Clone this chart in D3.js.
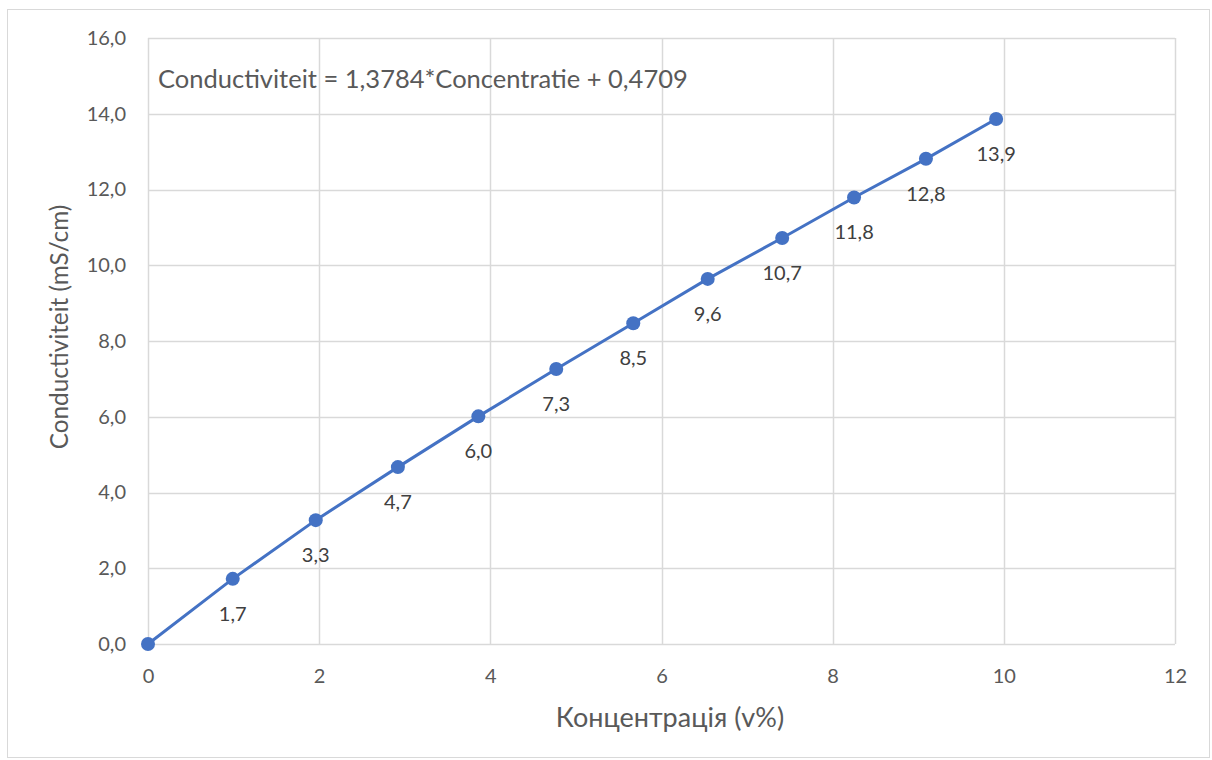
<!DOCTYPE html>
<html>
<head>
<meta charset="utf-8">
<script src="https://cdn.jsdelivr.net/npm/d3@7"></script>
<style>
  body { margin: 0; background: #fff; }
  svg text { font-family: Lato, "Open Sans", sans-serif; }
</style>
</head>
<body>
<div id="chart"></div>
<script>
// Data
const concentration = [0, 0.99, 1.96, 2.92, 3.86, 4.77, 5.67, 6.54, 7.41, 8.25, 9.09, 9.91];
const conductivity = [0, 1.72, 3.27, 4.67, 6.01, 7.26, 8.47, 9.64, 10.72, 11.79, 12.81, 13.86];
const xTicks = [0, 2, 4, 6, 8, 10, 12];
const yTicks = [0, 2, 4, 6, 8, 10, 12, 14, 16];
const equation = "Conductiviteit = 1,3784*Concentratie + 0,4709";
const xTitle = "Концентрація (v%)";
const yTitle = "Conductiviteit (mS/cm)";

const W = 1212, H = 760;
const margin = { top: 38, right: 37, bottom: 116, left: 148 };
const width = W - margin.left - margin.right;
const height = H - margin.top - margin.bottom;

const svg = d3.select("#chart").append("svg")
    .attr("width", W)
    .attr("height", H);

// outer chart border
svg.append("rect")
    .attr("x", 7.5).attr("y", 9.5)
    .attr("width", W - 10).attr("height", H - 12)
    .attr("fill", "none")
    .attr("stroke", "#d9d9d9");

const g = svg.append("g")
    .attr("transform", "translate(" + margin.left + "," + margin.top + ")");

const x = d3.scaleLinear().domain([0, 12]).range([0, width]);
const y = d3.scaleLinear().domain([0, 16]).range([height, 0]);

// gridlines
g.selectAll(".vgrid")
    .data(xTicks)
    .enter().append("line")
    .attr("x1", d => Math.round(x(d)) + 0.5)
    .attr("x2", d => Math.round(x(d)) + 0.5)
    .attr("y1", 0).attr("y2", height)
    .attr("stroke", "#d9d9d9").attr("stroke-width", 1.5);

g.selectAll(".hgrid")
    .data(yTicks)
    .enter().append("line")
    .attr("x1", 0).attr("x2", width)
    .attr("y1", d => Math.round(y(d)) + 0.5)
    .attr("y2", d => Math.round(y(d)) + 0.5)
    .attr("stroke", "#d9d9d9").attr("stroke-width", 1.5);

// axes (labels only)
const xAxis = g.append("g")
    .attr("transform", "translate(0," + height + ")")
    .call(d3.axisBottom(x).tickValues(xTicks).tickSize(0).tickPadding(25).tickFormat(d3.format("d")));
xAxis.select(".domain").remove();
xAxis.selectAll("text").attr("fill", "#595959").style("font-size", "20px");

const yAxis = g.append("g")
    .call(d3.axisLeft(y).tickValues(yTicks).tickSize(0).tickPadding(22)
        .tickFormat(d => d.toFixed(1).replace(".", ",")));
yAxis.select(".domain").remove();
yAxis.selectAll("text").attr("fill", "#595959").style("font-size", "20px");

// line
const line = d3.line()
    .x((d, i) => x(concentration[i]))
    .y(d => y(d));

g.append("path")
    .datum(conductivity)
    .attr("fill", "none")
    .attr("stroke", "#4472c4")
    .attr("stroke-width", 3)
    .attr("d", line);

g.selectAll(".dot")
    .data(conductivity)
    .enter().append("circle")
    .attr("cx", (d, i) => x(concentration[i]))
    .attr("cy", d => y(d))
    .attr("r", 7)
    .attr("fill", "#4472c4");

// data labels (skip the origin)
g.selectAll(".lbl")
    .data(conductivity.slice(1))
    .enter().append("text")
    .attr("x", (d, i) => x(concentration[i + 1]))
    .attr("y", d => y(d) + 42)
    .attr("text-anchor", "middle")
    .attr("fill", "#404040")
    .style("font-size", "20px")
    .text(d => d.toFixed(1).replace(".", ","));

// trendline equation
g.append("text")
    .attr("x", 10)
    .attr("y", 50)
    .attr("fill", "#595959")
    .style("font-size", "25.5px")
    .text(equation);

// axis titles
svg.append("text")
    .attr("x", 670)
    .attr("y", 727)
    .attr("text-anchor", "middle")
    .attr("fill", "#595959")
    .style("font-size", "27px")
    .text(xTitle);

svg.append("text")
    .attr("transform", "translate(68,327) rotate(-90)")
    .attr("text-anchor", "middle")
    .attr("fill", "#595959")
    .style("font-size", "24.3px")
    .text(yTitle);
</script>
</body>
</html>
